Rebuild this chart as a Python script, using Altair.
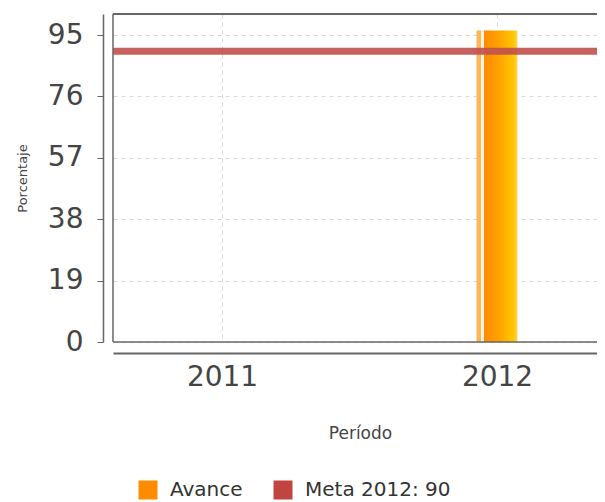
import altair as alt
import pandas as pd

# Data
periods = [2012]
avance = [96.4]
meta_value = 90
series = ["Avance", "Meta 2012: 90"]
series_colors = ["#FF8C00", "#C0443F"]
y_ticks = [0, 19, 38, 57, 76, 95]
x_ticks = [2011, 2012]

bars = pd.DataFrame({"Período": periods, "Porcentaje": avance})
meta = pd.DataFrame({"Meta": [meta_value]})
legend_df = pd.DataFrame({"serie": series, "x": [2013, 2013], "y": [50, 50]})

FONT = "DejaVu Sans"
X_DOMAIN = [2010.6036, 2012.3636]
Y_DOMAIN = [0, 101.5]
FRAME = "#666666"

gradient = alt.LinearGradient(
    gradient="linear",
    x1=0, x2=1, y1=0, y2=0,
    stops=[
        alt.GradientStop(offset=0.0, color="#FFB658"),
        alt.GradientStop(offset=0.1, color="#FFB658"),
        alt.GradientStop(offset=0.1, color="#FFF3E2"),
        alt.GradientStop(offset=0.19, color="#FFF3E2"),
        alt.GradientStop(offset=0.19, color="#FF8C00"),
        alt.GradientStop(offset=0.55, color="#FFA200"),
        alt.GradientStop(offset=0.88, color="#FFC400"),
        alt.GradientStop(offset=0.95, color="#FFCC20"),
        alt.GradientStop(offset=1.0, color="#FFD27A"),
    ],
)

x_enc = alt.X(
    "Período:Q",
    scale=alt.Scale(domain=X_DOMAIN, nice=False, zero=False, padding=0),
    axis=alt.Axis(
        title="Período",
        values=x_ticks,
        format="d",
        offset=11,
        tickSize=0,
        labelPadding=10,
        labelFontSize=28,
        labelColor="#444444",
        labelFont=FONT,
        titleFont=FONT,
        titleFontSize=17,
        titleFontWeight="normal",
        titleColor="#444444",
        titlePadding=34,
        titleX=247,
        titleAlign="center",
        domainColor=FRAME,
        domainWidth=2,
        grid=True,
        gridDash=[4, 4],
        gridColor="#d8d8d8",
    ),
)

y_enc = alt.Y(
    "Porcentaje:Q",
    scale=alt.Scale(domain=Y_DOMAIN, nice=False, padding=0),
    axis=alt.Axis(
        title="Porcentaje",
        values=y_ticks,
        offset=10,
        tickSize=6,
        tickColor=FRAME,
        labelPadding=14,
        labelFontSize=28,
        labelColor="#444444",
        labelFont=FONT,
        titleFont=FONT,
        titleFontSize=13,
        titleFontWeight="normal",
        titleColor="#444444",
        titlePadding=18,
        domainColor=FRAME,
        domainWidth=1.5,
        grid=True,
        gridDash=[4, 4],
        gridColor="#d8d8d8",
    ),
)

bar_layer = alt.Chart(bars).mark_bar(size=41, fill=gradient).encode(x=x_enc, y=y_enc)

meta_layer = alt.Chart(meta).mark_rule(
    color="#C0504D", strokeWidth=7, opacity=0.9
).encode(y=alt.Y("Meta:Q"))

# plot frame: top, bottom and left edges (the right edge lies beyond the page)
frame_top = alt.Chart(meta).mark_rule(color=FRAME, strokeWidth=2).encode(y=alt.datum(Y_DOMAIN[1]))
frame_bottom = alt.Chart(meta).mark_rule(color=FRAME, strokeWidth=1.5).encode(y=alt.datum(Y_DOMAIN[0]))
frame_left = alt.Chart(meta).mark_rule(color=FRAME, strokeWidth=1.5).encode(x=alt.datum(X_DOMAIN[0]))

legend_layer = alt.Chart(legend_df).mark_square(clip=True, opacity=1).encode(
    x=alt.X("x:Q"),
    y=alt.Y("y:Q"),
    color=alt.Color(
        "serie:N",
        scale=alt.Scale(domain=series, range=series_colors),
        legend=alt.Legend(
            title=None,
            orient="none",
            direction="horizontal",
            legendX=25,
            legendY=466,
            symbolType="square",
            symbolSize=361,
            symbolOpacity=1,
            symbolStrokeWidth=0,
            labelFont=FONT,
            labelFontSize=20,
            labelColor="#333333",
            labelOffset=12,
            columnPadding=30,
            padding=0,
        ),
    ),
)

chart = (
    alt.layer(bar_layer, meta_layer, frame_top, frame_bottom, frame_left, legend_layer)
    .properties(
        width=484,
        height=328,
        padding={"left": 105, "top": 6, "right": 0, "bottom": 160},
        autosize=alt.AutoSizeParams(type="none"),
        background="white",
    )
    .configure_view(stroke=None)
)

chart.save("out.html", embed_options={"renderer": "svg", "actions": False})
